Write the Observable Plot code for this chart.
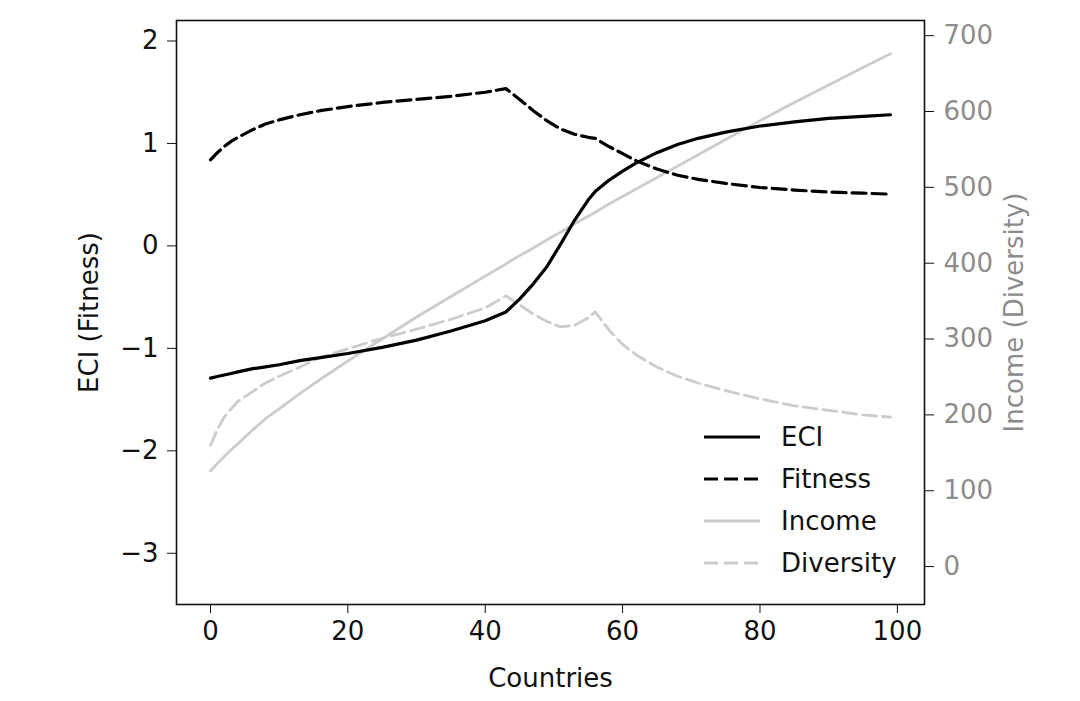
<!DOCTYPE html>
<html>
<head>
<meta charset="utf-8">
<script src="https://cdn.jsdelivr.net/npm/d3@7"></script>
<script src="https://cdn.jsdelivr.net/npm/@observablehq/plot@0.6"></script>
<style>
  html, body { margin: 0; padding: 0; background: white; }
  #wrap { position: relative; width: 1080px; height: 701px; font-family: "DejaVu Sans", sans-serif; }
  #legend { position: absolute; left: 700px; top: 416px; font-size: 26px; color: #111; }
  #legend .row { display: flex; align-items: center; height: 42px; }
  #legend svg { width: 62px; height: 20px; margin-right: 19px; }
</style>
</head>
<body>
<div id="wrap"></div>
<script>
// ---- data ----
const countries = [0,1,2,3,4,6,8,10,13,16,20,25,30,35,40,43,45,47,49,51,53,55,56,58,60,62,65,68,71,75,80,85,90,95,99];
const eci = [-1.29,-1.275,-1.26,-1.245,-1.23,-1.20,-1.18,-1.16,-1.12,-1.09,-1.05,-0.99,-0.92,-0.83,-0.73,-0.645,-0.52,-0.37,-0.20,0.02,0.25,0.45,0.53,0.64,0.73,0.81,0.91,0.99,1.05,1.11,1.17,1.21,1.245,1.265,1.28];
const fitness = [0.84,0.91,0.97,1.02,1.06,1.13,1.19,1.23,1.28,1.32,1.36,1.40,1.43,1.46,1.50,1.535,1.43,1.32,1.22,1.14,1.09,1.06,1.05,0.97,0.90,0.83,0.75,0.69,0.65,0.61,0.57,0.545,0.525,0.515,0.505];
const income = [126,136,145,154,162,179,195,208,228,247,271,300,329,356,383,399,410,420,431,441,452,462,467,478,488,498,513,528,543,563,588,612,635,658,676];
const diversity = [160,181,197,208,218,230,242,251,263,276,287,301,313,326,341,357,345,333,323,316,318,328,336,312,293,279,263,251,242,232,221,212,206,200,197];

const xTicks = [0,20,40,60,80,100];
const leftTicks = [-3,-2,-1,0,1,2];
const rightTicks = [0,100,200,300,400,500,600,700];
const leftDomain = [-3.5, 2.2];
const rightDomain = [-50, 720];

const legendItems = [
  {name: "ECI", color: "#000", dash: null},
  {name: "Fitness", color: "#000", dash: "14,6"},
  {name: "Income", color: "#cccccc", dash: null},
  {name: "Diversity", color: "#cccccc", dash: "14,6"}
];

// map right-axis values onto left scale
const r2l = v => leftDomain[0] + (v - rightDomain[0]) * (leftDomain[1] - leftDomain[0]) / (rightDomain[1] - rightDomain[0]);
const l2r = v => rightDomain[0] + (v - leftDomain[0]) * (rightDomain[1] - rightDomain[0]) / (leftDomain[1] - leftDomain[0]);

const rows = countries.map((c, i) => ({
  x: c, eci: eci[i], fitness: fitness[i], income: r2l(income[i]), diversity: r2l(diversity[i])
}));

const fmt = d => (d < 0 ? "\u2212" + Math.abs(d) : String(d));

const chart = Plot.plot({
  width: 1080,
  height: 701,
  marginLeft: 176,
  marginRight: 156,
  marginTop: 20,
  marginBottom: 97,
  style: {fontFamily: "DejaVu Sans", fontSize: "26px", background: "white", color: "#111"},
  x: {domain: [-4.95, 103.95]},
  y: {domain: leftDomain},
  marks: [
    Plot.axisX(xTicks, {tickSize: 9, tickPadding: 8, label: "Countries", labelAnchor: "center", labelOffset: 82, labelArrow: "none"}),
    Plot.axisY(leftTicks, {anchor: "left", tickSize: 9, tickPadding: 9, tickFormat: fmt, label: "ECI (Fitness)", labelAnchor: "center", labelOffset: 97, labelArrow: "none"}),
    Plot.axisY(rightTicks.map(r2l), {anchor: "right", tickSize: 9, tickPadding: 10, stroke: "#111", fill: "#8c8c8c", tickFormat: d => String(Math.round(l2r(d))), label: "Income (Diversity)", labelAnchor: "center", labelOffset: 98, labelArrow: "none"}),
    Plot.line(rows, {x: "x", y: "income", stroke: "#cccccc", strokeWidth: 2.8}),
    Plot.line(rows, {x: "x", y: "diversity", stroke: "#cccccc", strokeWidth: 2.8, strokeDasharray: "14,6"}),
    Plot.line(rows, {x: "x", y: "eci", stroke: "#000", strokeWidth: 3.2}),
    Plot.line(rows, {x: "x", y: "fitness", stroke: "#000", strokeWidth: 3.2, strokeDasharray: "14,6"}),
    Plot.frame({stroke: "#111", strokeWidth: 1.6})
  ]
});

const wrap = document.getElementById("wrap");
wrap.appendChild(chart);

const legend = document.createElement("div");
legend.id = "legend";
for (const it of legendItems) {
  const row = document.createElement("div");
  row.className = "row";
  row.innerHTML = `<svg viewBox="0 0 62 20"><line x1="4" y1="10" x2="60" y2="10" stroke="${it.color}" stroke-width="3.2" ${it.dash ? `stroke-dasharray="${it.dash}"` : ""}/></svg><span>${it.name}</span>`;
  legend.appendChild(row);
}
wrap.appendChild(legend);
</script>
</body>
</html>
